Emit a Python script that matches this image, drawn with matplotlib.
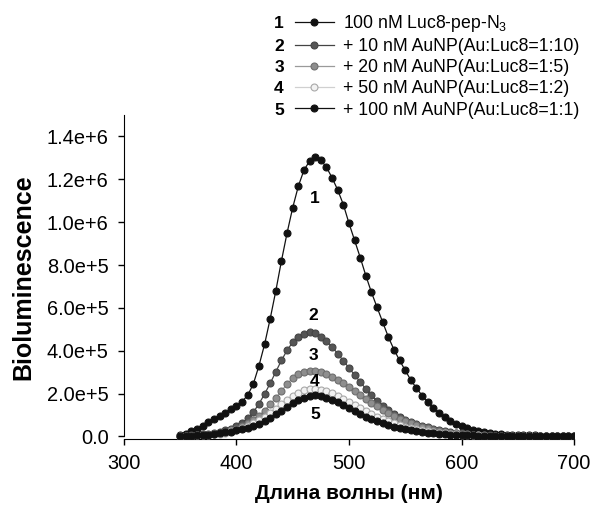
import numpy as np
import matplotlib
matplotlib.use("Agg")
import matplotlib.pyplot as plt
from matplotlib.ticker import FuncFormatter, MultipleLocator
from matplotlib.transforms import IdentityTransform

plt.rcParams['font.family'] = ['Liberation Sans', 'DejaVu Sans']
plt.rcParams['mathtext.fontset'] = 'custom'
plt.rcParams['mathtext.rm'] = 'Liberation Sans'
plt.rcParams['mathtext.default'] = 'regular'

# wavelength grid of the spectrometer, nm
wavelength = np.arange(350, 701, 5)

# bioluminescence, thousands of counts
luc8 = [5, 12, 24, 37, 51, 66, 80, 95, 110, 126,
        143, 163, 192, 245, 330, 430, 550, 680, 820, 950,
        1068, 1168, 1243, 1285, 1302, 1290, 1256, 1207, 1150, 1082,
        995, 915, 835, 750, 672, 602, 533, 464, 405, 355,
        308, 263, 225, 191, 161, 133, 109, 89, 72, 58,
        47, 38, 31, 25, 20, 16, 13, 11, 9, 8,
        7, 6, 5, 4.5, 4, 3.5, 3, 3, 2.5, 2,
        2]
aunp_10 = [3, 4, 6, 8, 10, 13, 17, 22, 28, 36,
           47, 62, 84, 113, 152, 198, 248, 302, 355, 402,
           440, 466, 480, 486, 482, 466, 444, 418, 386, 353,
           320, 287, 254, 222, 192, 166, 143, 122, 105, 90,
           77, 66, 57, 49, 42, 36, 30, 25, 21, 17,
           14, 11, 9, 7.5, 6, 5, 4, 3.5, 3, 2.5,
           2, 2, 1.8, 1.6, 1.5, 1.4, 1.3, 1.2, 1.1, 1.0,
           1.0]
aunp_20 = [2, 3, 4, 5, 7, 9, 12, 16, 21, 28,
           37, 48, 62, 78, 97, 121, 150, 180, 212, 245,
           272, 291, 302, 307, 306, 300, 291, 279, 265, 248,
           230, 212, 194, 176, 157, 140, 124, 109, 96, 83,
           72, 62, 53, 45, 38, 32, 27, 22, 18, 15,
           12, 10, 8, 6.5, 5, 4, 3.5, 3, 2.5, 2,
           2, 1.8, 1.6, 1.5, 1.4, 1.3, 1.2, 1.1, 1.0, 1.0,
           1.0]
aunp_50 = [2, 3, 4, 5, 6, 8, 10, 13, 18, 24,
           32, 41, 51, 63, 77, 93, 111, 130, 150, 171,
           190, 205, 216, 221, 222, 219, 212, 202, 190, 176,
           161, 146, 131, 117, 103, 91, 80, 70, 61, 53,
           46, 40, 34, 29, 25, 21, 18, 15, 12.5, 10.5,
           9, 7.5, 6, 5, 4, 3.5, 3, 2.5, 2, 2,
           1.8, 1.6, 1.5, 1.4, 1.3, 1.2, 1.1, 1.0, 1.0, 1.0,
           1.0]
aunp_100 = [2, 3, 4, 5, 7, 9, 12, 15, 19, 23,
            28, 34, 41, 50, 60, 72, 87, 103, 120, 137,
            154, 169, 181, 189, 192, 189, 181, 171, 159, 145,
            131, 117, 103, 91, 80, 70, 61, 53, 46, 40,
            34, 29, 25, 21, 18, 15, 13, 11, 9, 7.5,
            6.5, 5.5, 4.5, 4, 3.5, 3, 2.5, 2.2, 2, 1.8,
            1.6, 1.5, 1.4, 1.3, 1.2, 1.1, 1.0, 1.0, 1.0, 1.0,
            1.0]

series = [luc8, aunp_10, aunp_20, aunp_50, aunp_100]
labels = ['100 nM Luc8-pep-N$_3$',
          '+ 10 nM AuNP(Au:Luc8=1:10)',
          '+ 20 nM AuNP(Au:Luc8=1:5)',
          '+ 50 nM AuNP(Au:Luc8=1:2)',
          '+ 100 nM AuNP(Au:Luc8=1:1)']
numbers = ['1', '2', '3', '4', '5']
# where the curve numbers sit (nm, value)
number_pos = [(470, 1.11e6), (468, 0.565e6), (468, 0.378e6), (469, 0.258e6), (470, 0.104e6)]

face = ['#111111', '#555555', '#8e8e8e', '#f2f2f2', '#111111']
edge = ['#111111', '#444444', '#6e6e6e', '#a8a8a8', '#111111']
linec = ['#111111', '#444444', '#9a9a9a', '#d0d0d0', '#111111']

fig = plt.figure(figsize=(5.93, 5.08), dpi=100)
ax = fig.add_axes([0.209, 0.1358, 0.759, 0.6378])

lines = []
for i, y in enumerate(series):
    ln, = ax.plot(wavelength, np.array(y) * 1e3, '-o', color=linec[i], lw=0.9,
                  markersize=5, markerfacecolor=face[i], markeredgecolor=edge[i],
                  markeredgewidth=0.8, zorder=2 + i)
    lines.append(ln)

for n, (xx, yy) in zip(numbers, number_pos):
    ax.text(xx, yy, n, ha='center', va='center', fontsize=12.5, fontweight='bold', zorder=10)

ax.set_xlim(300, 700)
ax.set_ylim(-1.2e4, 1.5e6)
ax.xaxis.set_major_locator(MultipleLocator(100))
ax.yaxis.set_major_locator(MultipleLocator(2e5))


def sci(v, pos):
    if abs(v) < 1:
        return '0.0'
    e = int(np.floor(np.log10(abs(v))))
    return '%.1fe+%d' % (v / 10 ** e, e)


ax.yaxis.set_major_formatter(FuncFormatter(sci))
for s in ['top', 'right']:
    ax.spines[s].set_visible(False)
ax.spines['left'].set_bounds(0, 1.5e6)
ax.tick_params(direction='out', length=4, width=1, labelsize=14.4)
ax.tick_params(axis='y', pad=7)
ax.tick_params(axis='x', pad=7)

ax.set_ylabel('Bioluminescence', fontsize=18, fontweight='bold', labelpad=8)
ax.set_xlabel('Длина волны (нм)', fontsize=15, fontweight='bold', labelpad=8)

leg = ax.legend(lines, labels, loc='upper left', bbox_to_anchor=(0.497, 0.975),
                bbox_transform=fig.transFigure, frameon=False, fontsize=12.7,
                handlelength=2.2, handletextpad=0.55, labelspacing=0.24,
                borderpad=0, borderaxespad=0, numpoints=1)

fig.canvas.draw()
r = fig.canvas.get_renderer()
for t, n in zip(leg.get_texts(), numbers):
    bb = t.get_window_extent(r)
    fig.text(279, (bb.y0 + bb.y1) / 2, n, transform=IdentityTransform(),
             ha='center', va='center', fontsize=12.5, fontweight='bold')

fig.savefig('out.png', dpi=100)
